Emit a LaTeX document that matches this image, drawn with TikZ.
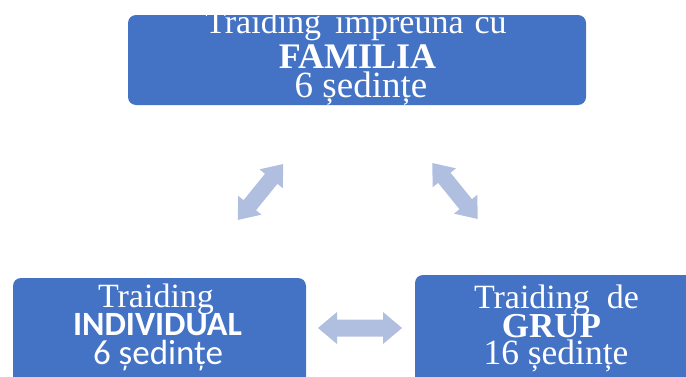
\documentclass[tikz,border=0pt]{standalone}
\usepackage{fontspec}
\setmainfont{Liberation Serif}
\newfontfamily\carlito{Carlito}
\definecolor{boxblue}{HTML}{4472C4}
\definecolor{arrowblue}{HTML}{B0BEE0}
\tikzset{
  box/.style={fill=boxblue, rounded corners=8pt},
  txt/.style={text=white, anchor=base, inner sep=0pt, text height=0.66em, text depth=0.1em, font=\fontsize{34}{34}\selectfont},
  boldtxt/.style={txt, font=\fontsize{34}{34}\selectfont\bfseries},
  sanstxt/.style={txt, font=\fontsize{35}{35}\selectfont\carlito},
  sansbold/.style={txt, font=\fontsize{34}{34}\selectfont\carlito\bfseries},
  dblarrow/.style={fill=arrowblue}
}
% double arrow centred at the origin along x: #1 length, #2 shaft, #3 head width, #4 head length
\newcommand\dblarrowpath[4]{%
  (-#1/2,0) -- (-#1/2+#4,#3/2) -- (-#1/2+#4,#2/2) -- (#1/2-#4,#2/2) -- (#1/2-#4,#3/2)
  -- (#1/2,0) -- (#1/2-#4,-#3/2) -- (#1/2-#4,-#2/2) -- (-#1/2+#4,-#2/2) -- (-#1/2+#4,-#3/2) -- cycle}
\begin{document}
\begin{tikzpicture}[x=1pt,y=1pt]
\useasboundingbox (0,0) rectangle (686,376);
\clip (0,0) rectangle (686,376);
% boxes
\fill[box] (128,271) rectangle (586,361);
\fill[box] (13,-20) rectangle (306,98);
\fill[box] (415,-20) rectangle (712,101);
% top box text
\node[txt] (t1) at (356,343) {Traiding\hspace{14pt}împreuna\hspace{11pt}cu};
\node[boldtxt, font=\fontsize{36}{36}\selectfont\bfseries] (t2) at (357.5,308) {FAMILIA};
\node[txt, font=\fontsize{37}{37}\selectfont] (t3) at (361,279) {6 ședințe};
% bottom left text
\node[txt] (l1) at (156,69) {Traiding};
\node[sansbold] (l2) at (157.5,41) {INDIVIDUAL};
\node[sanstxt] (l3) at (158,12) {6 ședințe};
% bottom right text
\node[txt] (r1) at (556.5,68) {Traiding\hspace{17pt}de};
\node[boldtxt, font=\fontsize{35}{35}\selectfont\bfseries] (r2) at (551.5,39) {GRUP};
\node[txt, font=\fontsize{35.5}{35.5}\selectfont] (r3) at (556,12) {16 ședințe};
% arrows
\coordinate (ca) at (260.5,184);
\coordinate (cb) at (455,185);
\coordinate (cc) at (360,48);
\begin{scope}[shift={(ca)},rotate=51]
\fill[dblarrow] \dblarrowpath{72}{16}{30}{19};
\end{scope}
\begin{scope}[shift={(cb)},rotate=-51]
\fill[dblarrow] \dblarrowpath{72}{16}{30}{19};
\end{scope}
\begin{scope}[shift={(cc)}]
\fill[dblarrow] \dblarrowpath{84}{17}{32}{19};
\end{scope}
\end{tikzpicture}
\end{document}
